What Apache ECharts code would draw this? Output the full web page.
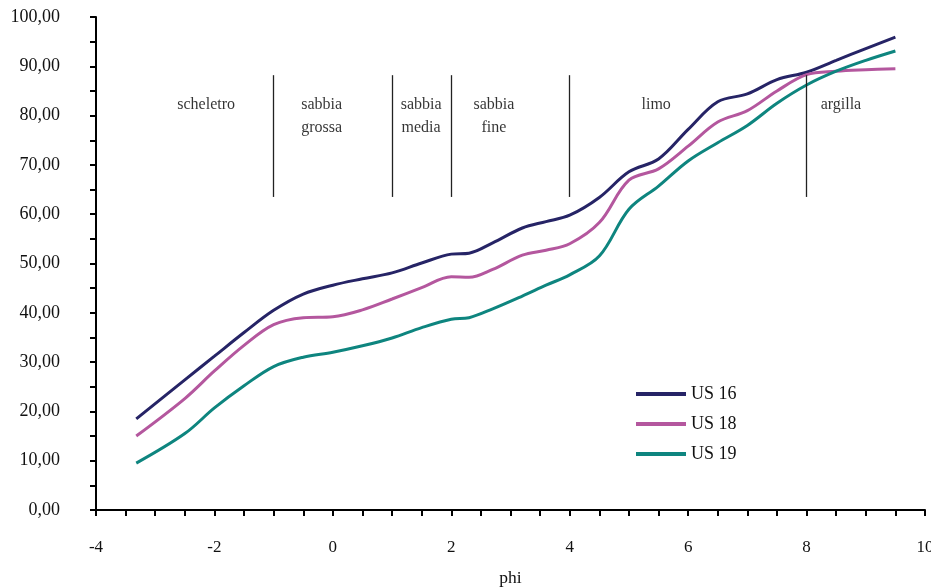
<!DOCTYPE html>
<html>
<head>
<meta charset="utf-8">
<script src="https://cdn.jsdelivr.net/npm/echarts@6/dist/echarts.min.js"></script>
<style>
html,body{margin:0;padding:0;background:#fff;}
#c{width:931px;height:588px;}
</style>
</head>
<body>
<div id="c"></div>
<script>
// ---- data ----
const phi = [-3.32, -2.5, -2, -1.5, -1, -0.5, 0, 0.5, 1, 1.5, 2, 2.3, 2.7, 3.2, 3.6, 4, 4.5, 5, 5.5, 6, 6.5, 7, 7.5, 8, 8.5, 9, 9.5];
const us16 = [18.5, 26.4, 31.2, 36.0, 40.5, 43.8, 45.6, 46.9, 48.1, 50.1, 51.9, 52.1, 54.2, 57.2, 58.5, 59.8, 63.4, 68.6, 71.2, 77.2, 82.8, 84.4, 87.3, 88.8, 91.2, 93.6, 95.9];
const us18 = [15.0, 22.6, 28.2, 33.4, 37.6, 39.0, 39.2, 40.6, 42.8, 45.1, 47.3, 47.2, 48.8, 51.7, 52.7, 54.0, 58.3, 66.9, 69.2, 73.8, 78.7, 81.0, 85.0, 88.3, 89.0, 89.3, 89.5];
const us19 = [9.5, 15.5, 20.7, 25.2, 29.1, 31.0, 32.0, 33.3, 34.9, 37.0, 38.7, 39.0, 40.8, 43.4, 45.6, 47.7, 51.5, 61.0, 65.7, 70.8, 74.5, 78.0, 82.5, 86.2, 89.0, 91.2, 93.1];
const seriesNames = ['US 16', 'US 18', 'US 19'];
const boundaries = [-1, 1, 2, 4, 8];
const zoneLabels = ['scheletro', 'sabbia\ngrossa', 'sabbia\nmedia', 'sabbia\nfine', 'limo', 'argilla'];
const zoneLabelX = [-2.14, -0.19, 1.49, 2.72, 5.46, 8.58];
const zoneLabelY = [82.2, 79.8, 79.8, 79.8, 82.2, 82.2];
const boundaryTop = 88.2, boundaryBottom = 63.5;

const colors = ['#262466', '#b4579e', '#0e857f'];
const font = '"Liberation Serif", "Times New Roman", serif';

function pairs(ys){ return phi.map((x,i)=>[x, ys[i]]); }
const allSeries = [us16, us18, us19].map((ys,i)=>({
  name: seriesNames[i], type:'line', data: pairs(ys), smooth: 0.35,
  symbol:'none', lineStyle:{width:3, color:colors[i]}, itemStyle:{color:colors[i]}, z: 3
}));

allSeries.push({
  name:'zones', type:'scatter', silent:true, symbolSize:0,
  data: zoneLabels.map((t,i)=>({value:[zoneLabelX[i], zoneLabelY[i]], name:t})),
  label:{show:true, position:'inside', formatter: p=>p.name, color:'#000', fontFamily:font, fontSize:16, lineHeight:23, align:'center', verticalAlign:'middle'},
  markLine:{
    silent:true, symbol:['none','none'], label:{show:false},
    lineStyle:{color:'#222', width:1.3, type:'solid'},
    data: boundaries.map(b=>[{coord:[b, boundaryBottom]},{coord:[b, boundaryTop]}])
  }
});

const chart = echarts.init(document.getElementById('c'));
chart.setOption({
  animation:false,
  backgroundColor:'#fff',
  grid:{left:96, right:6, top:17, bottom:78, containLabel:false, outerBoundsMode:'none'},
  legend:{
    data: seriesNames.map(n=>({name:n, icon:'rect'})), orient:'vertical', left:631, top:380, itemWidth:50, itemHeight:4, itemGap:12,
    textStyle:{fontFamily:font, fontSize:18, color:'#111'}
  },
  xAxis:{
    type:'value', min:-4, max:10, interval:0.5,
    name:'phi', nameLocation:'middle', nameGap:59,
    nameTextStyle:{fontFamily:font, fontSize:17.5, color:'#111'},
    axisLine:{show:true, onZero:false, lineStyle:{color:'#000', width:2}},
    axisTick:{show:true, inside:false, length:6, lineStyle:{color:'#000', width:2}},
    splitLine:{show:false},
    axisLabel:{fontFamily:font, fontSize:17, color:'#111', margin:29,
      formatter: v => (Math.abs(v % 2) < 1e-9) ? String(v) : ''}
  },
  yAxis:{
    type:'value', min:0, max:100, interval:5,
    axisLine:{show:true, onZero:false, lineStyle:{color:'#000', width:2}},
    axisTick:{show:true, inside:false, length:6, lineStyle:{color:'#000', width:2}},
    splitLine:{show:false},
    axisLabel:{fontFamily:font, fontSize:18, color:'#111', margin:36,
      formatter: v => (v % 10 === 0) ? v.toFixed(2).replace('.', ',') : ''}
  },
  series: allSeries
});
</script>
</body>
</html>
